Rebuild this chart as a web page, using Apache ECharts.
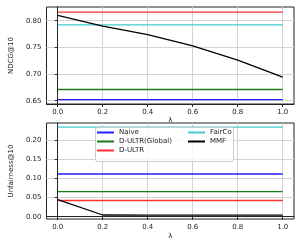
<!DOCTYPE html>
<html><head><meta charset="utf-8">
<script src="https://cdn.jsdelivr.net/npm/echarts@6/dist/echarts.min.js"></script>
<style>html,body{margin:0;padding:0;background:#fff}#c{width:305px;height:247px}</style>
</head><body><div id="c"></div>
<script>
const lambdas = [0.0, 0.2, 0.4, 0.6, 0.8, 1.0];
const seriesNames = ['Naive', 'D-ULTR(Global)', 'D-ULTR', 'FairCo', 'MMF'];
const ndcgNaive = [0.652, 0.652, 0.652, 0.652, 0.652, 0.652];
const ndcgDultrGlobal = [0.671, 0.671, 0.671, 0.671, 0.671, 0.671];
const ndcgDultr = [0.816, 0.816, 0.816, 0.816, 0.816, 0.816];
const ndcgFairCo = [0.792, 0.792, 0.792, 0.792, 0.792, 0.792];
const ndcgMMF = [0.810, 0.790, 0.774, 0.753, 0.726, 0.694];
const unfNaive = [0.112, 0.112, 0.112, 0.112, 0.112, 0.112];
const unfDultrGlobal = [0.066, 0.066, 0.066, 0.066, 0.066, 0.066];
const unfDultr = [0.0425, 0.0425, 0.0425, 0.0425, 0.0425, 0.0425];
const unfFairCo = [0.235, 0.235, 0.235, 0.235, 0.235, 0.235];
const unfMMF = [0.045, 0.0045, 0.004, 0.004, 0.004, 0.004];
const xTicks = [0, 0.2, 0.4, 0.6, 0.8, 1.0];
const ndcgTicks = [0.65, 0.70, 0.75, 0.80];
const unfTicks = [0, 0.05, 0.10, 0.15, 0.20];

const colors = ['#1f1fff', '#1a7d1a', '#ff3030', '#40cccc', '#000000'];
const FONT = 'DejaVu Sans';
const lbl = {fontFamily: FONT, fontSize: 7, color: '#222'};

function xAxis(gi) {
  return {
    type: 'value', gridIndex: gi, min: -0.05, max: 1.05,
    name: 'λ', nameLocation: 'middle', nameGap: gi === 0 ? 13 : 14,
    nameTextStyle: lbl,
    axisLine: {show: true, lineStyle: {color: '#222', width: 1}},
    axisTick: {show: true, length: 3, lineStyle: {color: '#222'}, customValues: xTicks},
    axisLabel: Object.assign({margin: 5, customValues: xTicks,
      formatter: v => v.toFixed(1)}, lbl),
    splitLine: {show: true, lineStyle: {color: '#d4d4d4', width: 1}}
  };
}
function yAxis(gi, min, max, ticks, name) {
  return {
    type: 'value', gridIndex: gi, min: min, max: max,
    name: name, nameLocation: 'middle', nameGap: 23, nameRotate: 90,
    nameTextStyle: lbl,
    axisLine: {show: true, lineStyle: {color: '#222', width: 1}},
    axisTick: {show: true, length: 3, lineStyle: {color: '#222'}, customValues: ticks},
    axisLabel: Object.assign({margin: 5, customValues: ticks,
      formatter: v => v.toFixed(2)}, lbl),
    splitLine: {show: true, lineStyle: {color: '#d4d4d4', width: 1}}
  };
}
function line(name, data, gi, ci) {
  return {
    name: name, type: 'line', xAxisIndex: gi, yAxisIndex: gi,
    data: lambdas.map((x, i) => [x, data[i]]),
    showSymbol: false, symbol: 'none',
    lineStyle: {color: colors[ci], width: 1.3},
    itemStyle: {color: colors[ci]},
    animation: false, z: 3
  };
}
const chart = echarts.init(document.getElementById('c'), null, {renderer: 'canvas'});
const legendCommon = {
  orient: 'vertical', icon: 'rect', itemWidth: 17, itemHeight: 2, itemGap: 2,
  padding: 0, z: 20, textStyle: {fontFamily: FONT, fontSize: 7, color: '#222', padding: [0,0,0,0]},
  selectedMode: false
};
chart.setOption({
  animation: false,
  backgroundColor: '#fff',
  grid: [
    {left: 36, top: 7, width: 258, height: 97, show: true, borderColor: '#222', borderWidth: 1, backgroundColor: 'transparent'},
    {left: 36, top: 123, width: 258, height: 96, show: true, borderColor: '#222', borderWidth: 1, backgroundColor: 'transparent'}
  ],
  xAxis: [xAxis(0), xAxis(1)],
  yAxis: [yAxis(0, 0.6438, 0.8257, ndcgTicks, 'NDCG@10'), yAxis(1, -0.006, 0.2456, unfTicks, 'Unfairness@10')],
  legend: [
    Object.assign({left: 97, top: 129, data: seriesNames.slice(0, 3)}, legendCommon),
    Object.assign({left: 188, top: 129, data: seriesNames.slice(3)}, legendCommon)
  ],
  graphic: {
    z: 8,
    elements: [{
      type: 'rect', left: 95, top: 127, z: 8,
      shape: {width: 138, height: 34, r: 2},
      style: {fill: 'rgba(255,255,255,0.8)', stroke: '#cccccc', lineWidth: 1}
    }]
  },
  series: [
    line(seriesNames[0], ndcgNaive, 0, 0),
    line(seriesNames[1], ndcgDultrGlobal, 0, 1),
    line(seriesNames[2], ndcgDultr, 0, 2),
    line(seriesNames[3], ndcgFairCo, 0, 3),
    line(seriesNames[4], ndcgMMF, 0, 4),
    line(seriesNames[0], unfNaive, 1, 0),
    line(seriesNames[1], unfDultrGlobal, 1, 1),
    line(seriesNames[2], unfDultr, 1, 2),
    line(seriesNames[3], unfFairCo, 1, 3),
    line(seriesNames[4], unfMMF, 1, 4)
  ]
});
</script></body></html>
